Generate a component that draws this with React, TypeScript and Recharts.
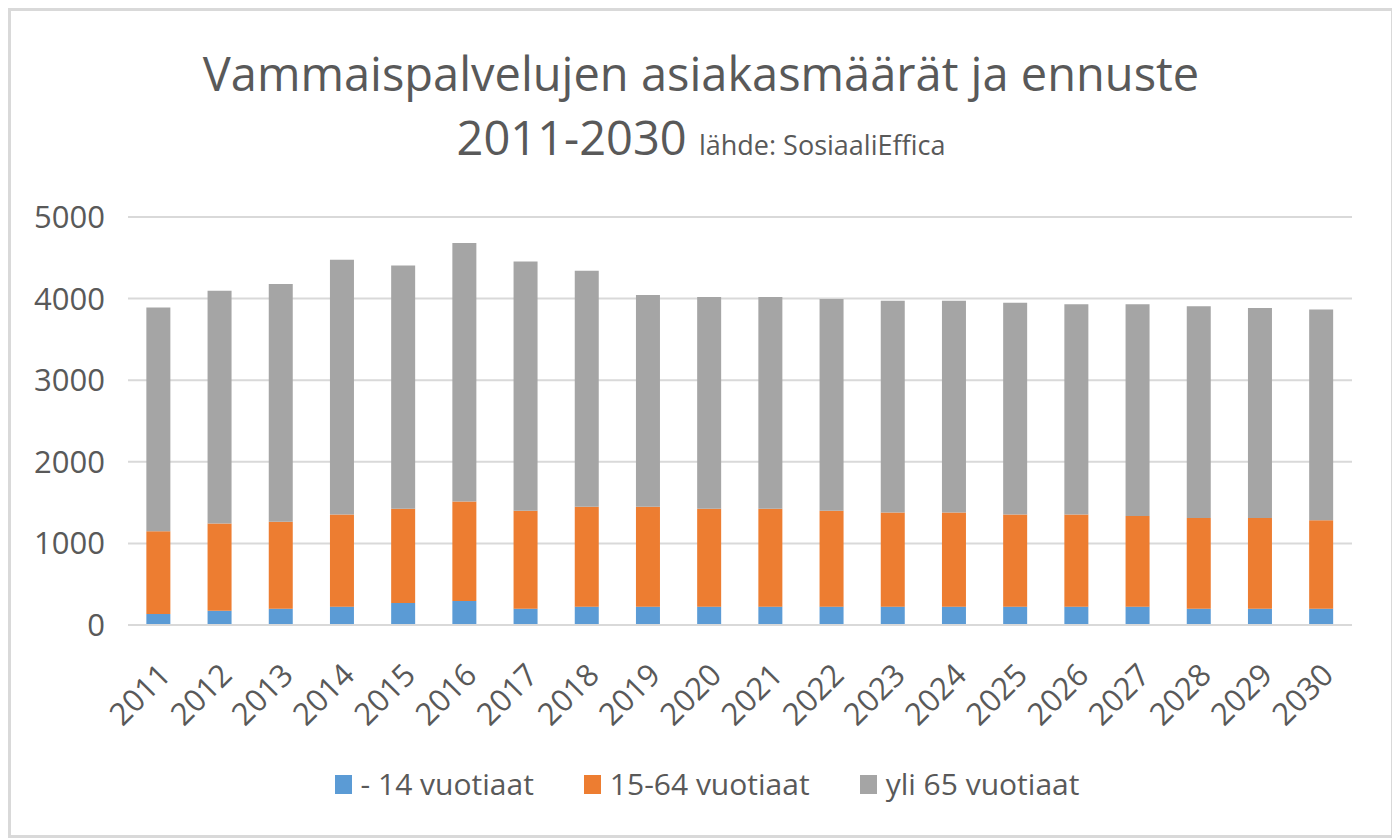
import React from "react";
import { Bar, BarChart, CartesianGrid, XAxis, YAxis } from "recharts";

const years = [
  "2011", "2012", "2013", "2014", "2015", "2016", "2017", "2018", "2019", "2020",
  "2021", "2022", "2023", "2024", "2025", "2026", "2027", "2028", "2029", "2030",
];

// - 14 vuotiaat
const children = [135, 175, 200, 225, 270, 295, 200, 225, 225, 225, 225, 225, 225, 225, 225, 225, 225, 200, 200, 200];
// 15-64 vuotiaat
const working = [1015, 1070, 1065, 1130, 1155, 1220, 1200, 1225, 1225, 1200, 1200, 1175, 1155, 1155, 1130, 1130, 1110, 1110, 1110, 1085];
// yli 65 vuotiaat
const elderly = [2740, 2850, 2915, 3120, 2980, 3165, 3055, 2890, 2595, 2595, 2595, 2595, 2595, 2595, 2595, 2575, 2595, 2595, 2575, 2580];

const yTicks = [0, 1000, 2000, 3000, 4000, 5000];

const series = [
  { key: "children", name: "- 14 vuotiaat", color: "#5b9bd5" },
  { key: "working", name: "15-64 vuotiaat", color: "#ed7d31" },
  { key: "elderly", name: "yli 65 vuotiaat", color: "#a5a5a5" },
];

const data = years.map((year, i) => ({
  year,
  children: children[i],
  working: working[i],
  elderly: elderly[i],
}));

const font = "'Open Sans', sans-serif";
const textColor = "#595959";

const YearTick = (props: any) => {
  const { x, y, payload } = props;
  const ax = x + 14;
  const ay = y + 44;
  return (
    <text
      x={ax}
      y={ay}
      textAnchor="end"
      fill={textColor}
      fontSize={31}
      fontFamily={font}
      transform={`rotate(-45, ${ax}, ${ay})`}
    >
      {payload.value}
    </text>
  );
};

export default function App() {
  return (
    <div
      style={{
        position: "relative",
        width: 1386,
        height: 830,
        boxSizing: "border-box",
        border: "3px solid #d9d9d9",
        background: "#fff",
        fontFamily: font,
        color: textColor,
      }}
    >
      <div
        style={{
          position: "absolute",
          left: 0,
          right: 0,
          top: 30,
          textAlign: "center",
          fontSize: 47,
          lineHeight: "64px",
        }}
      >
        <div>Vammaispalvelujen asiakasmäärät ja ennuste</div>
        <div>
          2011-2030 <span style={{ fontSize: 27 }}>lähde: SosiaaliEffica</span>
        </div>
      </div>
      <div style={{ position: "absolute", left: 0, top: 0 }}>
        <BarChart
          width={1380}
          height={824}
          data={data}
          margin={{ top: 206, right: 39, bottom: 60, left: 0 }}
          barCategoryGap="30%"
        >
          <CartesianGrid vertical={false} stroke="#d9d9d9" strokeWidth={2} />
          <XAxis
            dataKey="year"
            tick={<YearTick />}
            tickLine={false}
            axisLine={{ stroke: "#d9d9d9", strokeWidth: 2 }}
            interval={0}
            height={150}
          />
          <YAxis
            domain={[0, 5000]}
            ticks={yTicks}
            width={117}
            tickLine={false}
            axisLine={false}
            tick={{ fill: textColor, fontSize: 31, fontFamily: font }}
            tickMargin={17}
          />
          {series.map((s) => (
            <Bar
              key={s.key}
              dataKey={s.key}
              name={s.name}
              stackId="a"
              fill={s.color}
              isAnimationActive={false}
            />
          ))}
        </BarChart>
      </div>
      <div
        style={{
          position: "absolute",
          left: 12,
          right: 0,
          top: 753,
          display: "flex",
          justifyContent: "center",
          gap: 50,
          fontSize: 30,
          lineHeight: "40px",
        }}
      >
        {series.map((s) => (
          <div key={s.key} style={{ display: "flex", alignItems: "center" }}>
            <span
              style={{
                display: "inline-block",
                width: 17,
                height: 19,
                background: s.color,
                marginRight: 9,
              }}
            />
            <span>{s.name}</span>
          </div>
        ))}
      </div>
    </div>
  );
}
